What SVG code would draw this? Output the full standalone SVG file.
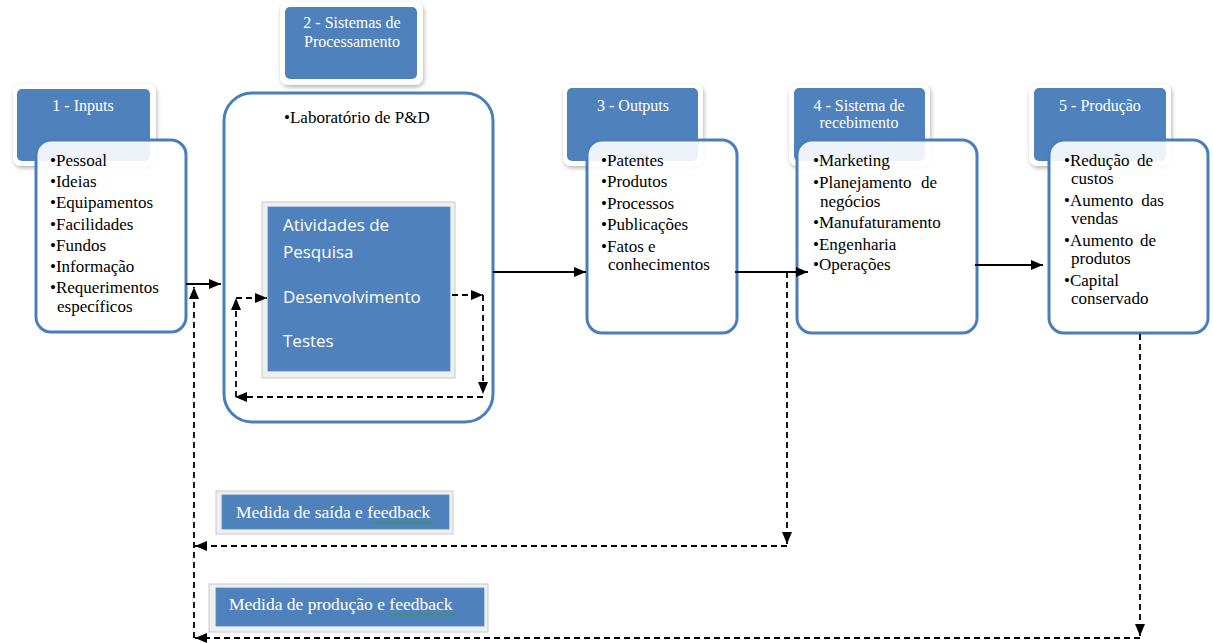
<svg xmlns="http://www.w3.org/2000/svg" width="1213" height="643" viewBox="0 0 1213 643">
<defs>
<filter id="sh" x="-20%" y="-20%" width="140%" height="140%">
<feDropShadow dx="1" dy="2" stdDeviation="2" flood-color="#000" flood-opacity="0.3"/>
</filter>
<marker id="ah" viewBox="0 0 12 10" refX="12" refY="5" markerWidth="12" markerHeight="10" markerUnits="userSpaceOnUse" orient="auto">
<path d="M0,0 L12,5 L0,10 z" fill="#000"/>
</marker>
</defs>
<style>
.hdrw{fill:#fff;filter:url(#sh)}
.hdr{fill:#4f81bd}
.body{fill:#fff;fill-opacity:0.9;stroke:#4a7ebb;stroke-width:3}
.ht{font-family:"Liberation Serif",serif;font-size:16px;fill:#fff;text-anchor:middle}
.bt{font-family:"Liberation Serif",serif;font-size:17px;fill:#000}
.st{font-family:"Open Sans",sans-serif;font-size:17px;fill:#fff}
.mt{font-family:"Liberation Serif",serif;font-size:17.5px;fill:#fff}
.frame{fill:#efefef;stroke:#c9c9c9;stroke-width:1}
.blue{fill:#4f81bd;stroke:#5b8cc6;stroke-width:0.8}
.sol{fill:none;stroke:#000;stroke-width:1.8;marker-end:url(#ah)}
.das{fill:none;stroke:#000;stroke-width:1.8;stroke-dasharray:6,4;marker-end:url(#ah)}
.wavy{fill:none;stroke:#3a9a3a;stroke-width:0.8}
</style>

<g id="node1">
<rect class="hdrw" x="13" y="84" width="143" height="82" rx="8"/>
<rect class="hdr" x="17" y="89" width="133" height="72" rx="5"/>
<text class="ht" x="83" y="111">1 - Inputs</text>
<rect class="body" x="36" y="140" width="150" height="192" rx="15"/>
<text class="bt" x="50" y="166">•Pessoal</text>
<text class="bt" x="50" y="187">•Ideias</text>
<text class="bt" x="50" y="208">•Equipamentos</text>
<text class="bt" x="50" y="230">•Facilidades</text>
<text class="bt" x="50" y="251">•Fundos</text>
<text class="bt" x="50" y="272">•Informação</text>
<text class="bt" x="50" y="293">•Requerimentos</text>
<text class="bt" x="57" y="312">específicos</text>
</g>

<g id="node2">
<rect class="hdrw" x="280" y="2" width="143" height="83" rx="8"/>
<rect class="hdr" x="285" y="7" width="132" height="72" rx="5"/>
<text class="ht" x="352" y="28">2 - Sistemas de</text>
<text class="ht" x="352" y="47">Processamento</text>
<rect class="body" x="224" y="93" width="269" height="329" rx="28"/>
<text class="bt" x="284" y="123">•Laboratório de P&amp;D</text>
</g>

<g id="node2-activities">
<rect class="frame" x="262" y="202" width="193" height="176"/>
<rect class="blue" x="268" y="207" width="182" height="164"/>
<text class="st" x="283" y="231">Atividades de</text>
<text class="st" x="283" y="258">Pesquisa</text>
<text class="st" x="283" y="303">Desenvolvimento</text>
<text class="st" x="283" y="347">Testes</text>
</g>

<g id="node3">
<rect class="hdrw" x="563" y="84" width="140" height="82" rx="8"/>
<rect class="hdr" x="567" y="88" width="131" height="73" rx="5"/>
<text class="ht" x="633" y="111">3 - Outputs</text>
<rect class="body" x="587" y="140" width="150" height="193" rx="15"/>
<text class="bt" x="601" y="166">•Patentes</text>
<text class="bt" x="601" y="187">•Produtos</text>
<text class="bt" x="601" y="209">•Processos</text>
<text class="bt" x="601" y="230">•Publicações</text>
<text class="bt" x="601" y="252">•Fatos e</text>
<text class="bt" x="608" y="270">conhecimentos</text>
</g>

<g id="node4">
<rect class="hdrw" x="789" y="84" width="141" height="82" rx="8"/>
<rect class="hdr" x="794" y="88" width="131" height="73" rx="5"/>
<text class="ht" x="859" y="111">4 - Sistema de</text>
<text class="ht" x="859" y="128">recebimento</text>
<rect class="body" x="797" y="140" width="180" height="193" rx="15"/>
<text class="bt" x="813" y="166">•Marketing</text>
<text class="bt" x="813" y="188">•Planejamento</text>
<text class="bt" x="937" y="188" text-anchor="end">de</text>
<text class="bt" x="820" y="207">negócios</text>
<text class="bt" x="813" y="228">•Manufaturamento</text>
<text class="bt" x="813" y="250">•Engenharia</text>
<text class="bt" x="813" y="270">•Operações</text>
</g>

<g id="node5">
<rect class="hdrw" x="1029" y="84" width="142" height="82" rx="8"/>
<rect class="hdr" x="1034" y="88" width="132" height="73" rx="5"/>
<text class="ht" x="1100" y="111">5 - Produção</text>
<rect class="body" x="1049" y="140" width="159" height="193" rx="15"/>
<text class="bt" x="1064" y="166">•Redução</text>
<text class="bt" x="1153" y="166" text-anchor="end">de</text>
<text class="bt" x="1071" y="184">custos</text>
<text class="bt" x="1064" y="206">•Aumento</text>
<text class="bt" x="1164" y="206" text-anchor="end">das</text>
<text class="bt" x="1071" y="224">vendas</text>
<text class="bt" x="1064" y="246">•Aumento</text>
<text class="bt" x="1156" y="246" text-anchor="end">de</text>
<text class="bt" x="1071" y="264">produtos</text>
<text class="bt" x="1064" y="286">•Capital</text>
<text class="bt" x="1071" y="304">conservado</text>
</g>

<g id="label-saida">
<rect class="frame" x="216" y="491" width="237" height="43"/>
<rect class="blue" x="222" y="495" width="227" height="34"/>
<text class="mt" x="236" y="518">Medida de saída e feedback</text>
<path class="wavy" d="M371,522 l2,1.2 l2,-1.2 l2,1.2 l2,-1.2 l2,1.2 l2,-1.2 l2,1.2 l2,-1.2 l2,1.2 l2,-1.2 l2,1.2 l2,-1.2 l2,1.2 l2,-1.2 l2,1.2 l2,-1.2 l2,1.2 l2,-1.2 l2,1.2 l2,-1.2 l2,1.2 l2,-1.2 l2,1.2 l2,-1.2 l2,1.2 l2,-1.2 l2,1.2 l2,-1.2 l2,1.2 l2,-1.2 l2,1.2"/>
</g>

<g id="label-producao">
<rect class="frame" x="209" y="584" width="279" height="48"/>
<rect class="blue" x="216" y="588" width="268" height="38"/>
<text class="mt" x="229" y="610">Medida de produção e feedback</text>
<path class="wavy" d="M390,614 l2,1.2 l2,-1.2 l2,1.2 l2,-1.2 l2,1.2 l2,-1.2 l2,1.2 l2,-1.2 l2,1.2 l2,-1.2 l2,1.2 l2,-1.2 l2,1.2 l2,-1.2 l2,1.2 l2,-1.2 l2,1.2 l2,-1.2 l2,1.2 l2,-1.2 l2,1.2 l2,-1.2 l2,1.2 l2,-1.2 l2,1.2 l2,-1.2 l2,1.2 l2,-1.2 l2,1.2 l2,-1.2 l2,1.2 l2,-1.2 l2,1.2"/>
</g>

<g id="connectors">
<path class="sol" d="M186,284 H221"/>
<path class="sol" d="M493,272 H586"/>
<path class="sol" d="M735,272 H808"/>
<path class="sol" d="M975,265 H1043"/>
<path class="das" d="M452,295 H483"/>
<path class="das" d="M483,295 V394"/>
<path class="das" d="M483,397 H235"/>
<path class="das" d="M236,397 V298"/>
<path class="das" d="M236,298 H267"/>
<path class="das" d="M787,272 V544"/>
<path class="das" d="M787,546 H195"/>
<path class="das" d="M1140,334 V636"/>
<path class="das" d="M1140,638 H195"/>
<path class="das" d="M194,638 V287"/>
</g>
</svg>
